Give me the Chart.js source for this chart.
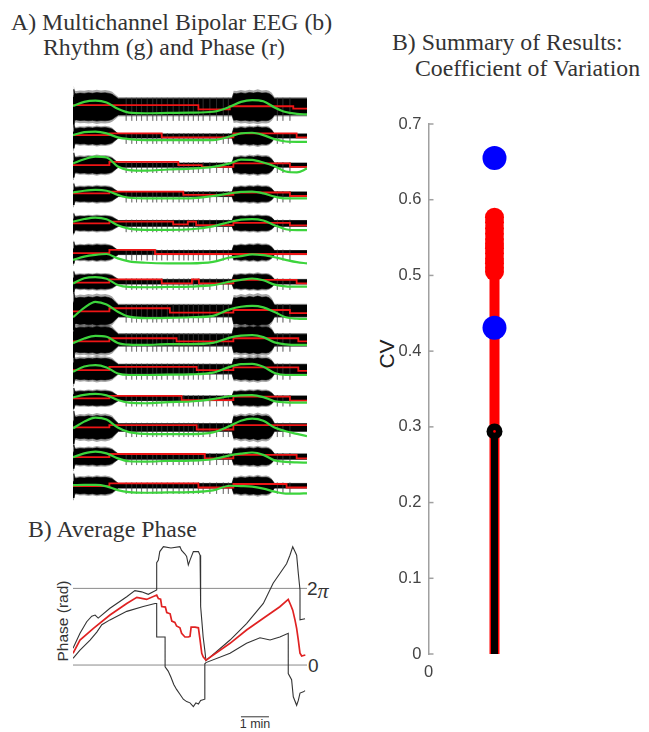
<!DOCTYPE html>
<html>
<head>
<meta charset="utf-8">
<script src="https://cdn.jsdelivr.net/npm/chart.js@4.4.0/dist/chart.umd.min.js"></script>
<style>
  body { margin: 0; width: 649px; height: 732px; background: #fff; position: relative; overflow: hidden; }
  canvas { position: absolute; }
  .t { position: absolute; white-space: nowrap; line-height: 1; color: #333; }
  .serif { font-family: "Liberation Serif", "Times New Roman", serif; font-size: 23.8px; }
  .sans { font-family: "Liberation Sans", Arial, sans-serif; }
</style>
</head>
<body>
<div class="t serif" style="left:11px;top:11px">A) Multichannel Bipolar EEG (b)</div>
<div class="t serif" style="left:43px;top:36px">Rhythm (g) and Phase (r)</div>
<div class="t serif" style="left:392px;top:31px">B) Summary of Results:</div>
<div class="t serif" style="left:415px;top:57px">Coefficient of Variation</div>
<div class="t serif" style="left:28px;top:518px">B) Average Phase</div>

<div class="t sans" style="left:63px;top:621px;font-size:15.5px;transform:translate(-50%,-50%) rotate(-90deg)">Phase (rad)</div>
<div class="t sans" style="left:307px;top:577px;font-size:19px">2<span style="font-family:'Liberation Serif',serif;font-style:italic;font-size:22px;position:relative;top:3px">π</span></div>
<div class="t sans" style="left:308px;top:656px;font-size:19px">0</div>
<div class="t sans" style="left:255px;top:718px;font-size:12.5px;transform:translateX(-50%)">1 min</div>
<div class="t sans" style="left:386px;top:354px;font-size:21px;color:#222;transform:translate(-50%,-50%) rotate(-90deg)">CV</div>

<canvas id="eeg" width="234" height="440" style="left:73px;top:80px"></canvas>
<canvas id="phase" width="234" height="182" style="left:73px;top:540px"></canvas>
<canvas id="cv" width="279" height="590" style="left:370px;top:100px"></canvas>

<script>
// recording length in minutes (1 min scale bar)
const eegMinutes = 8.36;

// A) rhythm (green), one row per channel, sampled at rhythmT
const rhythmT = [0, 0.4, 0.8, 1.2, 1.6, 2.0, 2.6, 3.4, 4.2, 5.0, 5.6, 6.0, 6.4, 6.8, 7.2, 7.6, 8.0, 8.36];
const rhythm = [
  [0.03, 0.17, 0.21, 0.15, -0.07, -0.2, -0.22, -0.21, -0.2, -0.17, 0.0, 0.17, 0.23, 0.19, -0.02, -0.18, -0.24, -0.26],
  [0.03, 0.13, 0.15, 0.09, -0.05, -0.11, -0.14, -0.14, -0.14, -0.14, -0.02, 0.09, 0.11, 0.03, -0.11, -0.19, -0.2, -0.2],
  [0.06, 0.2, 0.29, 0.26, -0.05, -0.17, -0.19, -0.15, -0.12, -0.06, 0.06, 0.19, 0.18, 0.09, -0.04, -0.22, -0.25, -0.12],
  [0.06, 0.12, 0.15, 0.12, -0.02, -0.12, -0.14, -0.14, -0.14, -0.06, 0.03, 0.08, 0.09, 0.03, -0.08, -0.14, -0.14, -0.14],
  [0.06, 0.15, 0.2, 0.14, -0.06, -0.18, -0.22, -0.22, -0.2, -0.1, 0.05, 0.13, 0.15, 0.1, -0.06, -0.2, -0.23, -0.23],
  [-0.25, -0.14, -0.08, -0.05, -0.2, -0.3, -0.35, -0.37, -0.37, -0.32, -0.17, -0.12, -0.06, -0.09, -0.16, -0.25, -0.33, -0.37],
  [-0.06, 0.12, 0.16, 0.1, -0.11, -0.18, -0.19, -0.18, -0.17, -0.12, 0.0, 0.06, 0.11, 0.05, -0.1, -0.16, -0.17, -0.17],
  [-0.22, 0.1, 0.31, 0.22, -0.03, -0.2, -0.25, -0.24, -0.22, -0.17, 0.05, 0.14, 0.17, 0.12, -0.04, -0.22, -0.27, -0.28],
  [-0.11, 0.05, 0.14, 0.11, -0.1, -0.16, -0.17, -0.14, -0.14, -0.1, 0.08, 0.15, 0.17, 0.1, -0.08, -0.15, -0.17, -0.17],
  [-0.09, 0.09, 0.14, 0.06, -0.15, -0.2, -0.2, -0.19, -0.18, -0.12, 0.08, 0.17, 0.18, 0.08, -0.13, -0.2, -0.2, -0.2],
  [0.03, 0.12, 0.15, 0.1, -0.06, -0.15, -0.17, -0.13, -0.11, -0.03, 0.07, 0.1, 0.11, 0.04, -0.1, -0.14, -0.15, -0.15],
  [-0.03, 0.2, 0.34, 0.27, 0.0, -0.16, -0.22, -0.23, -0.23, -0.17, 0.05, 0.23, 0.3, 0.23, 0.0, -0.13, -0.22, -0.3],
  [-0.02, 0.11, 0.17, 0.11, -0.06, -0.16, -0.17, -0.15, -0.14, -0.09, 0.04, 0.1, 0.14, 0.06, -0.13, -0.18, -0.2, -0.21],
  [0.02, 0.03, 0.03, -0.02, -0.15, -0.22, -0.24, -0.23, -0.22, -0.16, 0.0, -0.01, -0.03, -0.1, -0.2, -0.27, -0.27, -0.26]
];

// A) phase (red) step levels: change times and levels per channel
const phaseStepT = [
  [0, 4.48, 5.6, 7.87],
  [0, 1.3, 3.17, 5.73, 7.99],
  [0, 1.3, 3.76, 4.6, 5.73, 7.75],
  [0, 1.3, 3.94, 5.73, 7.75],
  [0, 1.3, 3.58, 4.1, 4.4, 5.73, 7.75],
  [0, 1.3, 2.93],
  [0, 1.3, 3.17, 4.25, 4.5, 5.73, 7.99],
  [0, 1.3, 3.46, 5.73, 7.75],
  [0, 1.3, 3.7, 5.73, 8.05],
  [0, 1.3, 4.42, 5.73, 8.05],
  [0, 1.3, 3.88, 5.73, 7.75],
  [0, 1.3, 4.42, 5.73],
  [0, 1.3, 4.71, 5.73, 7.99],
  [0, 1.3, 4.48, 5.73, 7.63]
];
const phaseStepV = [
  [0.06, -0.09, 0.02, -0.06],
  [0.03, 0.09, -0.05, 0.09, -0.05],
  [0.0, 0.11, 0.0, -0.06, 0.06, -0.06],
  [0.03, 0.09, -0.02, 0.06, -0.06],
  [0.0, 0.06, -0.03, 0.06, -0.06, 0.02, -0.07],
  [-0.02, 0.09, -0.05],
  [-0.03, 0.08, -0.06, 0.08, -0.06, 0.06, -0.06],
  [-0.02, 0.09, -0.06, 0.03, -0.08],
  [-0.05, 0.06, -0.05, 0.06, -0.05],
  [-0.03, 0.08, -0.03, 0.06, -0.06],
  [0.0, 0.08, -0.06, 0.06, -0.08],
  [0.0, 0.08, -0.07, 0.08],
  [-0.02, 0.09, -0.06, 0.06, -0.06],
  [-0.01, 0.08, -0.06, 0.06, -0.06]
];

// A) EEG (black) envelope: burst profile in time, burst and background half-widths per channel
const envT = [0, 0.03, 0.06, 0.12, 0.25, 0.4, 0.55, 0.7, 0.85, 1.0, 1.15, 1.3, 1.4, 1.5, 1.62,
              5.68, 5.74, 5.85, 6.0, 6.15, 6.3, 6.45, 6.6, 6.75, 6.9, 7.0, 7.1, 7.2, 8.36];
const burstShape = [0.3, 1.6, 0.9, 0.85, 0.95, 0.9, 1.0, 0.92, 1.05, 0.95, 1.0, 0.9, 0.75, 0.4, 0,
                    0, 0.9, 0.85, 1.0, 0.9, 1.05, 0.95, 1.1, 0.95, 1.0, 0.9, 0.6, 0, 0];
const burstAmp = [0.48, 0.29, 0.29, 0.26, 0.25, 0.26, 0.25, 0.48, 0.45, 0.37, 0.25, 0.4, 0.29, 0.29];
const quietAmp = [0.28, 0.07, 0.07, 0.08, 0.1, 0.07, 0.08, 0.2, 0.2, 0.16, 0.08, 0.13, 0.09, 0.08];
const spikeT = [1.9, 2.1, 2.27, 2.45, 2.65, 2.85, 2.99, 3.17, 3.37, 3.58, 3.79, 3.96, 4.12, 4.3,
                4.48, 4.65, 4.89, 5.13, 5.37, 5.55, 7.3, 7.5, 7.75];

// B) average phase (rad): mean (red) and spread (black)
const meanT = [0, 0.25, 0.73, 1.32, 1.92, 2.28, 2.63, 2.99, 3.05, 3.13, 3.17, 3.3, 3.35, 3.47, 3.53, 3.64, 3.7, 3.82,
               3.88, 4.0, 4.12, 4.18, 4.22, 4.36, 4.48, 4.54, 4.6, 4.65, 4.75, 5.61, 6.2, 6.8, 7.39, 7.69, 7.78,
               7.85, 7.93, 7.99, 8.05, 8.11, 8.17, 8.3];
const meanPh = [0.96, 2.05, 3.0, 4.1, 5.05, 5.55, 5.38, 5.74, 5.45, 5.4, 4.8, 4.75, 4.3, 4.2, 3.6, 3.5, 3.2, 3.05,
                2.6, 2.3, 2.3, 2.35, 3.1, 3.1, 3.05, 2.05, 0.96, 0.68, 0.4, 1.78, 2.87, 3.83, 4.78, 5.38, 4.9,
                4.5, 3.7, 3.0, 2.05, 0.96, 0.74, 0.82];
const upperT = [0, 0.25, 0.49, 0.67, 0.79, 0.9, 1.32, 1.92, 2.21, 2.45, 2.69, 2.99, 2.99, 3.05, 3.1, 3.23, 3.5, 3.82,
                3.88, 4.0, 4.06, 4.12, 4.18, 4.3, 4.48, 4.54, 4.56, 4.6, 4.65, 4.71, 4.75, 5.61, 6.2, 6.8, 7.15,
                7.39, 7.63, 7.75, 7.85, 7.93, 7.99, 8.05, 8.11, 8.11, 8.29];
const upperPh = [1.37, 2.6, 3.55, 4.0, 4.1, 3.85, 4.65, 5.6, 6.1, 6.0, 5.8, 6.15, 8.4, 8.6, 9.3, 9.7, 9.6, 9.7,
                 9.4, 9.1, 8.9, 8.2, 8.6, 9.3, 9.3, 9.0, 4.8, 3.7, 2.3, 1.2, 0.35, 2.05, 3.4, 5.05, 6.7,
                 7.5, 8.3, 9.0, 9.7, 9.3, 9.0, 7.5, 6.15, 3.7, 3.8];
const lowerT = [0, 0.25, 0.61, 0.85, 1.03, 1.32, 1.92, 2.51, 2.93, 2.99, 2.99, 3.29, 3.29, 3.4, 3.5, 3.6, 3.7, 3.82,
                3.94, 4.06, 4.18, 4.3, 4.39, 4.48, 4.56, 4.71, 4.71, 4.75, 5.61, 6.2, 6.68, 7.04, 7.39, 7.69,
                7.69, 7.81, 7.87, 7.99, 8.05, 8.11, 8.23, 8.29];
const lowerPh = [0.55, 1.23, 2.05, 2.7, 3.3, 3.7, 4.4, 4.8, 5.05, 5.05, 2.3, 2.3, -0.15, -0.5, -1.0, -1.6, -2.0, -2.4,
                 -2.8, -3.0, -3.1, -3.4, -3.1, -3.2, -2.9, -2.8, 0.1, 0.2, 0.96, 1.78, 2.24, 2.05, 2.3, 2.6,
                 -0.7, -1.2, -2.6, -3.3, -2.9, -2.3, -2.2, -2.1];
const refLevels = [0, 2 * Math.PI];
const scaleBarMin = [6.0, 7.0];

// B) summary: coefficient of variation
const cvRed = [0.577, 0.570, 0.562, 0.555, 0.548, 0.542, 0.536, 0.529, 0.522, 0.516, 0.510, 0.505];
const cvBlue = [0.655, 0.431];
const cvBlack = [0.294];

Chart.defaults.animation = false;
Chart.defaults.elements.point.radius = 0;
Chart.defaults.plugins.legend.display = false;
Chart.defaults.plugins.tooltip.enabled = false;

const pts = (xs, ys, off = 0) => xs.map((x, i) => ({ x: x, y: ys[i] == null ? null : ys[i] + off }));

// ---- panel A: stacked channels ----
const eegSets = [];
rhythm.forEach((vals, ch) => {
  const base = -ch;
  const amp = burstShape.map(s => quietAmp[ch] + (burstAmp[ch] - quietAmp[ch]) * s);
  // soft fringe around the bursts, then the solid trace
  const halo = amp.map(a => a * 1.2);
  eegSets.push({ data: pts(envT, halo, base), fill: '+1', backgroundColor: 'rgba(0,0,0,0.35)', borderWidth: 0, order: 5 });
  eegSets.push({ data: pts(envT, halo.map(a => -a), base), borderWidth: 0, order: 5 });
  eegSets.push({ data: pts(envT, amp, base), fill: '+1', backgroundColor: '#000', borderColor: '#000', borderWidth: 0.6, order: 4 });
  eegSets.push({ data: pts(envT, amp.map(a => -a), base), borderColor: '#000', borderWidth: 0.6, order: 4 });
  const sp = [];
  spikeT.forEach(t => {
    sp.push({ x: t, y: base + quietAmp[ch] + 0.03 }, { x: t, y: base - quietAmp[ch] - 0.2 }, { x: t, y: null });
  });
  eegSets.push({ data: sp, borderColor: 'rgba(60,60,60,0.35)', borderWidth: 1, spanGaps: false, order: 3 });
  const st = pts(phaseStepT[ch], phaseStepV[ch], base);
  st.push({ x: eegMinutes, y: st[st.length - 1].y });
  eegSets.push({ data: st, stepped: true, borderColor: '#ee1515', borderWidth: 1.8, order: 2 });
  eegSets.push({ data: pts(rhythmT, vals, base), borderColor: '#3cd43c', borderWidth: 2.2, cubicInterpolationMode: 'monotone', order: 1 });
});

new Chart(document.getElementById('eeg'), {
  type: 'line',
  data: { datasets: eegSets },
  options: {
    responsive: false,
    layout: { padding: 0 },
    scales: {
      x: { type: 'linear', min: 0, max: eegMinutes, display: false },
      y: { min: -14.175, max: 0.92, display: false }
    }
  }
});

// ---- panel B: average phase ----
new Chart(document.getElementById('phase'), {
  type: 'line',
  data: {
    datasets: [
      { data: pts(meanT, meanPh), borderColor: '#e02222', borderWidth: 1.7, order: 0 },
      { data: pts(upperT, upperPh), borderColor: '#333', borderWidth: 1.1, order: 1 },
      { data: pts(lowerT, lowerPh), borderColor: '#333', borderWidth: 1.1, order: 1 },
      ...refLevels.map(v => ({ data: [{ x: 0, y: v }, { x: eegMinutes, y: v }], borderColor: '#8a8a8a', borderWidth: 1, order: 2 })),
      { data: [{ x: scaleBarMin[0], y: -4.24 }, { x: scaleBarMin[1], y: -4.24 }], borderColor: '#555', borderWidth: 1.2, order: 2 }
    ]
  },
  options: {
    responsive: false,
    layout: { padding: 0 },
    scales: {
      x: { type: 'linear', min: 0, max: eegMinutes, display: false },
      y: { min: -4.67, max: 10.25, display: false }
    }
  }
});

// ---- summary: CV ----
const inwardTicks = {
  id: 'inwardTicks',
  beforeDatasetsDraw(chart) {
    const y = chart.scales.y, ctx = chart.ctx, left = chart.chartArea.left;
    ctx.save();
    ctx.strokeStyle = '#a0a0a0';
    ctx.lineWidth = 1.5;
    y.ticks.forEach(t => {
      const py = y.getPixelForValue(t.value);
      ctx.beginPath();
      ctx.moveTo(left, py);
      ctx.lineTo(left + 5, py);
      ctx.stroke();
    });
    ctx.restore();
  }
};

const tickFont = { family: 'Liberation Sans', size: 16.5 };
new Chart(document.getElementById('cv'), {
  type: 'scatter',
  data: {
    datasets: [
      { data: [{ x: 1, y: cvBlack[0] }], pointRadius: 1.3, backgroundColor: '#ff0000', borderWidth: 0, order: 0 },
      { data: cvBlue.map(v => ({ x: 1, y: v })), pointRadius: 12, backgroundColor: '#0000ff', borderWidth: 0, order: 1 },
      { data: [{ x: 1, y: cvBlack[0] }], pointRadius: 8, backgroundColor: '#000', borderWidth: 0, order: 2 },
      { data: [{ x: 1, y: 0 }, { x: 1, y: cvBlack[0] }], showLine: true, borderColor: '#000', borderWidth: 7, borderCapStyle: 'butt', order: 3 },
      { data: cvRed.map(v => ({ x: 1, y: v })), pointRadius: 9.5, backgroundColor: '#ff0000', borderWidth: 0, order: 4 },
      { data: [{ x: 1, y: 0 }, { x: 1, y: Math.max(...cvRed) }], showLine: true, borderColor: '#ff0000', borderWidth: 10, borderCapStyle: 'butt', order: 5 }
    ]
  },
  options: {
    responsive: false,
    layout: { padding: { top: 24, right: 88.5, left: 0, bottom: 0 } },
    scales: {
      x: {
        type: 'linear', min: 0, max: 2,
        ticks: { stepSize: 2, padding: 9, color: '#444', font: tickFont, callback: v => (v === 0 ? '0' : '') },
        grid: { display: false, drawTicks: false },
        border: { display: false },
        afterFit: s => { s.height = 36; }
      },
      y: {
        min: 0, max: 0.7,
        ticks: { stepSize: 0.1, padding: 7, color: '#444', font: tickFont, callback: v => +v.toFixed(1) },
        grid: { display: false, drawTicks: false },
        border: { display: true, color: '#a0a0a0', width: 1.5 },
        afterFit: s => { s.width = 58.5; }
      }
    }
  },
  plugins: [inwardTicks]
});
</script>
</body>
</html>
